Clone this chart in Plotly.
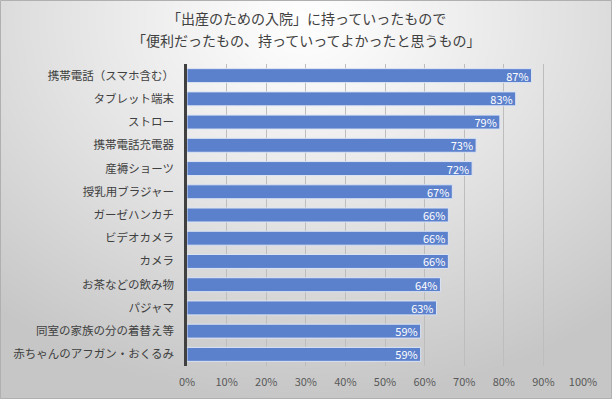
import base64, zlib, struct
import numpy as np
import plotly.graph_objects as go

categories = ["携帯電話（スマホ含む）", "タブレット端末", "ストロー", "携帯電話充電器", "産褥ショーツ",
              "授乳用ブラジャー", "ガーゼハンカチ", "ビデオカメラ", "カメラ", "お茶などの飲み物",
              "パジャマ", "同室の家族の分の着替え等", "赤ちゃんのアフガン・おくるみ"]
values = [0.87, 0.83, 0.79, 0.73, 0.72, 0.67, 0.66, 0.66, 0.66, 0.64, 0.63, 0.59, 0.59]
tick_vals = [i / 10 for i in range(11)]
tick_text = [f"{i*10}%" for i in range(11)]
title_lines = ["「出産のための入院」に持っていったもので", "「便利だったもの、持っていってよかったと思うもの」"]

W, H = 612, 399
ML, MR, MT, MB = 187, 29, 64, 33

# background gradient image
yy, xx = np.mgrid[0:H, 0:W]
d = np.sqrt(((xx - W / 2) / 1.0) ** 2 + ((yy - 20) * 1.25) ** 2)
d = np.clip(d / 480.0, 0, 1)
g = (255 - 57 * d ** 1.1).astype(np.uint8)
rgb = np.stack([g, g, g], axis=-1)
raw = b"".join(b"\x00" + rgb[r].tobytes() for r in range(H))
def chunk(t, data):
    c = struct.pack(">I", len(data)) + t + data
    return c + struct.pack(">I", zlib.crc32(t + data) & 0xffffffff)
png = b"\x89PNG\r\n\x1a\n" + chunk(b"IHDR", struct.pack(">IIBBBBB", W, H, 8, 2, 0, 0, 0)) \
      + chunk(b"IDAT", zlib.compress(raw, 9)) + chunk(b"IEND", b"")
uri = "data:image/png;base64," + base64.b64encode(png).decode()

pw = W - ML - MR
ph = H - MT - MB

fig = go.Figure(go.Bar(
    x=values, y=categories, orientation="h",
    marker=dict(color="#5b80cc", line=dict(color="#dbe4f4", width=1)),
    text=[f"{round(v*100)}%" for v in values], textposition="inside",
    insidetextanchor="end", textangle=0, constraintext="none",
    textfont=dict(color="white", size=11, family="Noto Sans CJK JP"),
    cliponaxis=False,
))

title_y = [18, 40]
annotations = [dict(text=t, xref="paper", yref="paper", x=(W / 2 - ML) / pw,
                    y=1 + (MT - py) / ph, xanchor="center", yanchor="middle", showarrow=False,
                    font=dict(size=14, color="#404040", family="Noto Sans CJK JP"))
               for t, py in zip(title_lines, title_y)]

fig.update_layout(
    width=W, height=H,
    margin=dict(l=ML, r=MR, t=MT, b=MB, autoexpand=False),
    paper_bgcolor="white", plot_bgcolor="rgba(0,0,0,0)",
    bargap=0.4,
    showlegend=False,
    font=dict(family="Noto Sans CJK JP", color="#404040"),
    annotations=annotations,
    images=[dict(source=uri, xref="paper", yref="paper",
                 x=-ML / pw, y=1 + MT / ph, sizex=W / pw, sizey=H / ph,
                 xanchor="left", yanchor="top", sizing="stretch", layer="below")],
    shapes=[dict(type="rect", xref="paper", yref="paper",
                 x0=-(ML - 0.5) / pw, x1=1 + (MR - 0.5) / pw,
                 y0=-(MB - 0.5) / ph, y1=1 + (MT - 0.5) / ph,
                 line=dict(color="#b0b0b0", width=1))],
)
fig.update_xaxes(range=[0, 1.0], tickvals=tick_vals, ticktext=tick_text, automargin=False,
                 showgrid=True, gridcolor="#bdbdbd", gridwidth=1, zeroline=False,
                 tickfont=dict(size=11, color="#595959"), ticks="", ticklabelstandoff=8)
fig.update_yaxes(autorange="reversed", showline=True, linecolor="#404040", linewidth=2.5,
                 automargin=False,
                 tickfont=dict(size=11.5, color="#404040"), ticks="", ticklabelstandoff=8,
                 showgrid=False)

fig.write_html("out.html", config={"displayModeBar": False},
               post_script="document.body.style.margin='0';document.body.style.overflow='hidden';")
